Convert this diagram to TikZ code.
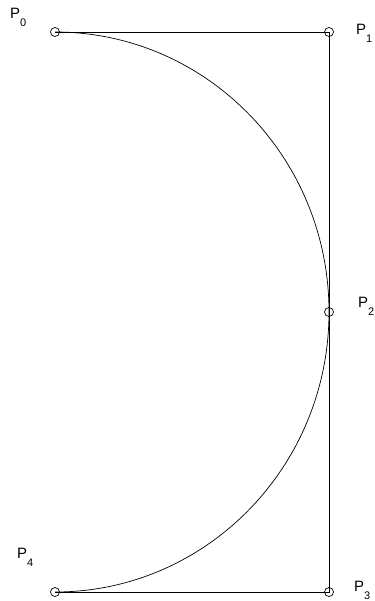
\documentclass[tikz,border=0pt]{standalone}
\usepackage{fontspec}
\setmainfont{Liberation Sans}
\begin{document}
\begin{tikzpicture}[x=1pt,y=-1pt,
  pt/.style={circle,draw,inner sep=0pt,minimum size=9pt,line width=0.7pt},
  lbl/.style={anchor=base west,inner sep=0pt,font=\fontsize{15}{15}\selectfont},
  ln/.style={line width=0.7pt}]
\useasboundingbox (0,0) rectangle (374,601);
\coordinate (c0) at (55,32);
\coordinate (c1) at (329,32);
\coordinate (c2) at (329,312);
\coordinate (c3) at (329,592);
\coordinate (c4) at (55,592);
\draw[ln] (c0) -- (c1) -- (c3) -- (c4);
\draw[ln] (c0) arc[start angle=-90, end angle=90, x radius=274, y radius=280];
\foreach \i in {0,...,4} \node[pt] (p\i) at (c\i) {};
\newcommand{\lab}[1]{P\raisebox{-8pt}{\fontsize{11}{11}\selectfont #1}}
\node[lbl] (l0) at (10,19) {\lab{0}};
\node[lbl] (l1) at (356,35) {\lab{1}};
\node[lbl] (l2) at (358,307) {\lab{2}};
\node[lbl] (l3) at (354,591) {\lab{3}};
\node[lbl] (l4) at (17,558) {\lab{4}};
\end{tikzpicture}
\end{document}
